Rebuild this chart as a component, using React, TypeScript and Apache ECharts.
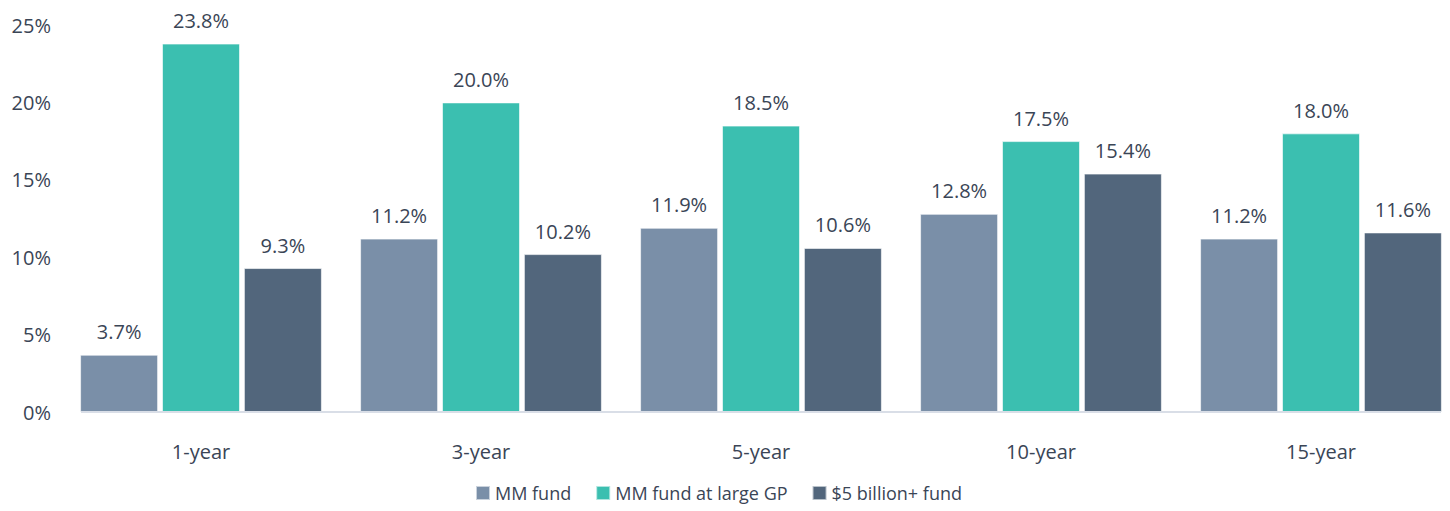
import React, { useEffect, useRef } from "react";
import * as echarts from "echarts";

const categories = ["1-year", "3-year", "5-year", "10-year", "15-year"];
const mmFund = [3.7, 11.2, 11.9, 12.8, 11.2];
const mmLargeGP = [23.8, 20.0, 18.5, 17.5, 18.0];
const bigFund = [9.3, 10.2, 10.6, 15.4, 11.6];
const seriesNames = ["MM fund", "MM fund at large GP", "$5 billion+ fund"];
const colors = ["#7a8fa8", "#3bbfb0", "#52667c"];

export default function App() {
  const ref = useRef<HTMLDivElement>(null);
  useEffect(() => {
    const chart = echarts.init(ref.current!, null, { renderer: "svg" });
    const textColor = "#3a4556";
    const font = "'Open Sans', 'Noto Sans', sans-serif";
    const mk = (name: string, data: number[], color: string) => ({
      name,
      type: "bar",
      data,
      barWidth: 78,
      itemStyle: { color, borderColor: "rgba(255,255,255,0.6)", borderWidth: 1 },
      label: {
        show: true,
        position: "top",
        distance: 13,
        formatter: (p: any) => p.value.toFixed(1) + "%",
        color: textColor,
        fontSize: 20,
        fontFamily: font,
      },
      barGap: "5%",
    });
    chart.setOption({
      animation: false,
      textStyle: { fontFamily: font },
      grid: { left: 61, right: 1, top: 25, bottom: 99 },
      legend: {
        bottom: 4,
        left: 470,
        itemWidth: 14,
        itemHeight: 14,
        itemGap: 24,
        icon: "rect",
        textStyle: { color: textColor, fontSize: 18, fontFamily: font },
        data: seriesNames,
      },
      graphic: [
        {
          type: "line",
          shape: { x1: 81, y1: 412, x2: 1441, y2: 412 },
          style: { stroke: "#d9dee7", lineWidth: 2 },
          z: 10,
        },
      ],
      xAxis: {
        type: "category",
        data: categories,
        axisTick: { show: false },
        axisLine: { show: false },
        axisLabel: { color: textColor, fontSize: 20, margin: 29, fontFamily: font },
      },
      yAxis: {
        type: "value",
        min: 0,
        max: 25,
        interval: 5,
        splitLine: { show: false },
        axisLine: { show: false },
        axisTick: { show: false },
        axisLabel: {
          formatter: (v: number) => v + "%",
          color: textColor,
          fontSize: 20,
          margin: 10,
          fontFamily: font,
        },
      },
      series: [
        mk(seriesNames[0], mmFund, colors[0]),
        mk(seriesNames[1], mmLargeGP, colors[1]),
        mk(seriesNames[2], bigFund, colors[2]),
      ],
    });
    return () => chart.dispose();
  }, []);
  return (
    <div style={{ width: 1450, height: 511, position: "absolute", left: 0, top: 0, overflow: "hidden" }}>
      <div ref={ref} style={{ width: 1462, height: 511 }} />
    </div>
  );
}
